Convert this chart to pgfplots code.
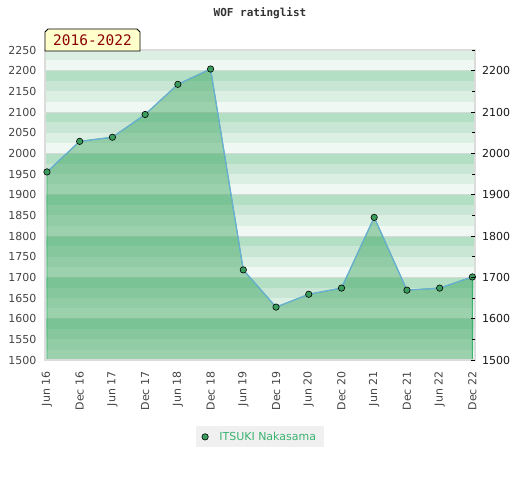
\documentclass[border=0pt]{standalone}
\usepackage{fontspec}
\setmainfont{DejaVu Sans}
\newfontfamily\monofont{DejaVu Sans Mono}
\usepackage{pgfplots}
\pgfplotsset{compat=1.18}
\definecolor{bandD}{HTML}{B3DFC4}
\definecolor{bandM}{HTML}{C8E6D3}
\definecolor{bandL}{HTML}{DCEFE3}
\definecolor{bandX}{HTML}{F0F8F3}
\definecolor{areagreen}{RGB}{54,163,92}
\definecolor{edgegreen}{HTML}{3CB371}
\definecolor{linecol}{HTML}{6AAED6}
\definecolor{markgreen}{HTML}{3A9D5D}
\definecolor{framegray}{HTML}{DCDCDC}
\definecolor{bandline}{HTML}{D4DAD6}
\definecolor{boxfill}{HTML}{FFFFCC}
\definecolor{boxtext}{HTML}{8B0000}
\definecolor{leggray}{HTML}{F0F0F0}
\definecolor{labgray}{HTML}{444444}
\begin{document}
\begin{tikzpicture}
\useasboundingbox (0,0) rectangle (520pt,480pt);
\begin{axis}[
  at={(45pt,120pt)}, anchor=south west,
  scale only axis, width=430pt, height=310pt,
  xmin=-0.06, xmax=13.08, ymin=1500, ymax=2250,
  axis on top,
  axis line style={draw=framegray, line width=1.2pt},
  xtick={0,...,13},
  xticklabels={Jun 16,Dec 16,Jun 17,Dec 17,Jun 18,Dec 18,Jun 19,Dec 19,Jun 20,Dec 20,Jun 21,Dec 21,Jun 22,Dec 22},
  xticklabel style={rotate=90, anchor=east, text=labgray, font=\fontsize{11}{13}\selectfont},
  xticklabel shift=8pt,
  ytick={1500,1550,...,2250},
  yticklabel style={text=labgray, font=\fontsize{11}{13}\selectfont},
  yticklabel shift=5pt,
  tick style={draw=none},
  /pgf/number format/assume math mode=true,
  /pgf/number format/1000 sep={},
  legend style={at={(0.5,-0.248)}, anchor=center, draw=none, fill=leggray,
    font=\fontsize{11}{13}\selectfont, text=edgegreen, inner xsep=6pt, inner ysep=3.5pt},
]
\fill[bandD] (axis cs:-0.06,1500) rectangle (axis cs:13.08,2250);
\pgfplotsinvokeforeach{15,16,...,21}{
  \fill[bandM] (axis cs:-0.06,#100) rectangle (axis cs:13.08,#175);
  \fill[bandL] (axis cs:-0.06,#100) rectangle (axis cs:13.08,#150);
  \fill[bandX] (axis cs:-0.06,#100) rectangle (axis cs:13.08,#125);
  \draw[bandline, line width=0.7pt] (axis cs:-0.06,#100) -- (axis cs:13.08,#100);
}
\fill[bandL] (axis cs:-0.06,2200) rectangle (axis cs:13.08,2250);
\fill[bandX] (axis cs:-0.06,2200) rectangle (axis cs:13.08,2225);
\draw[bandline, line width=0.7pt] (axis cs:-0.06,2200) -- (axis cs:13.08,2200);

\addplot[fill=areagreen, fill opacity=0.45, draw=edgegreen, line width=0.9pt, forget plot]
  coordinates {(0,1955) (1,2029) (2,2039) (3,2094) (4,2167) (5,2204) (6,1718)
  (7,1628) (8,1659) (9,1674) (10,1845) (11,1669) (12,1674) (13,1701)} \closedcycle;
\addplot[color=linecol, line width=1.2pt, mark=*, mark size=3.2pt,
  mark options={fill=markgreen, draw=black, line width=0.6pt}, forget plot]
  coordinates {(0,1955) (1,2029) (2,2039) (3,2094) (4,2167) (5,2204) (6,1718)
  (7,1628) (8,1659) (9,1674) (10,1845) (11,1669) (12,1674) (13,1701)};
\addlegendimage{only marks, mark=*, mark size=3.2pt, mark options={fill=markgreen, draw=black, line width=0.6pt}}
\addlegendentry{\hspace{9pt}ITSUKI Nakasama}
\end{axis}
\begin{axis}[
  at={(45pt,120pt)}, anchor=south west,
  scale only axis, width=430pt, height=310pt,
  xmin=-0.06, xmax=13.08, ymin=1500, ymax=2250,
  hide x axis,
  axis y line*=right,
  y axis line style={draw=none},
  ytick={1500,1600,...,2200},
  minor ytick={1550,1650,...,2250},
  tick align=inside,
  major tick length=4.3pt, minor tick length=2.7pt,
  tick style={draw=black, line width=0.8pt},
  yticklabel style={text=black!90, font=\fontsize{11}{13}\selectfont},
  yticklabel shift=3.5pt,
  /pgf/number format/assume math mode=true,
  /pgf/number format/1000 sep={},
]
\end{axis}
\node[font=\monofont\bfseries\fontsize{11}{13}\selectfont, text=black!80] at (260pt,467pt) {WOF ratinglist};
\draw[fill=boxfill, line width=0.8pt] (45pt,429pt)--(45pt,448pt)--(48pt,451pt)--(137pt,451pt)--(140pt,448pt)--(140pt,429pt)--cycle;
\node[font=\monofont\fontsize{14.5}{16}\selectfont, text=boxtext] at (92.5pt,440pt) {2016-2022};
\end{tikzpicture}
\end{document}
